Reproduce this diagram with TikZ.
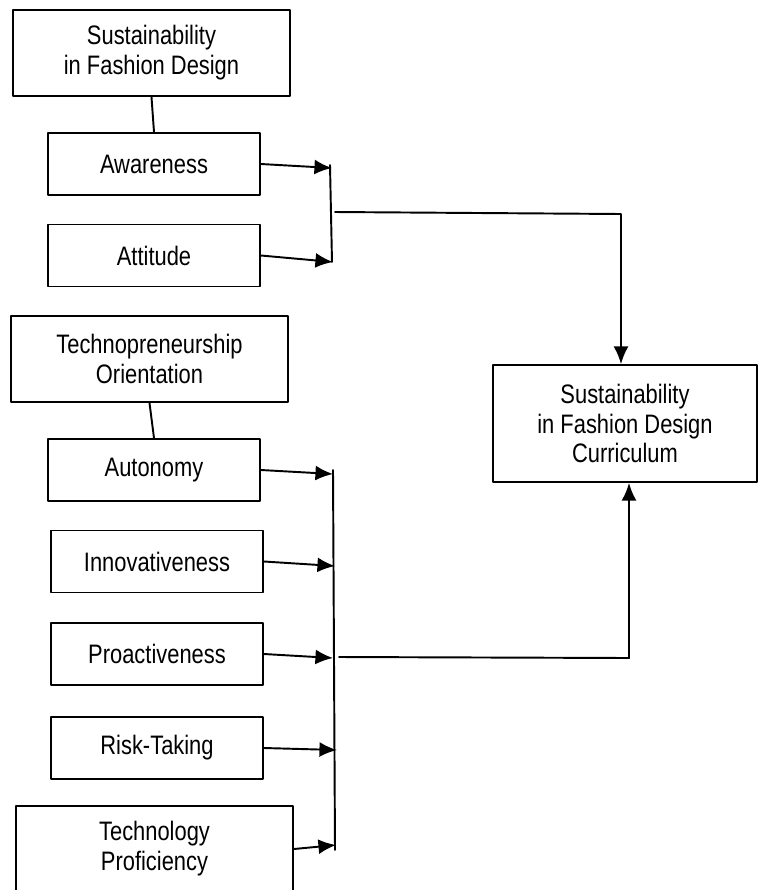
\documentclass[tikz,border=0pt]{standalone}
\usepackage{fontspec}
\setmainfont{Liberation Sans}[FakeStretch=0.82]
\usetikzlibrary{arrows.meta}

\begin{document}
\begin{tikzpicture}[x=0.02cm,y=-0.02cm,line cap=round,line join=round,
    >={Latex[length=10pt,width=8.5pt]},
    box/.style={draw,line width=1.1pt,align=center,inner sep=0pt,
      font=\fontsize{15.2}{17}\selectfont},
    widebox/.style={box,minimum width=277*\px,minimum height=86*\px},
    itembox/.style={box,minimum width=212*\px,minimum height=62*\px},
    link/.style={line width=1.1pt}]
  \def\px{0.02cm}
  \useasboundingbox (0,0) rectangle (759,890);

  % constructs on the left
  \node[widebox] (sfd) at (151.5,53) {Sustainability\\in Fashion Design};
  \node[itembox] (aware) at (154,164) {Awareness};
  \node[itembox] (att) at (154,255.5) {Attitude};

  \node[widebox] (tpo) at (149.5,359) {Technopreneurship\\Orientation};
  \node[itembox] (auto) at (154,470) {Autonomy};
  \node[itembox] (innov) at (157,561.5) {Innovativeness};
  \node[itembox] (proact) at (157,654) {Proactiveness};
  \node[itembox] (risk) at (157,748) {Risk-Taking};
  \node[widebox] (tprof) at (154.5,849) {Technology\\Proficiency};

  % outcome
  \node[box,minimum width=264*\px,minimum height=117*\px] (curr) at (625,423.5)
    {Sustainability\\in Fashion Design\\Curriculum};

  % bus points
  \coordinate (b1a) at (330,165);  \coordinate (b1b) at (332,262);
  \coordinate (j1) at (335,212);   \coordinate (k1) at (621,214);
  \coordinate (b2a) at (333,470);  \coordinate (b2b) at (335,850);
  \coordinate (j2) at (339,657);   \coordinate (k2) at (629,658);
  \coordinate (t1) at (332,168);   \coordinate (t2) at (333,262);
  \coordinate (t3) at (333,474);   \coordinate (t4) at (335,566);
  \coordinate (t5) at (333,658);   \coordinate (t6) at (337,750);
  \coordinate (t7) at (336,845);

  \draw[link] (sfd.south) -- (aware.north);
  \draw[link] (tpo.south) -- (auto.north);

  \draw[link,->] (aware.east) -- (t1);
  \draw[link,->] (att.east) -- (t2);
  \draw[link] (b1a) -- (b1b);
  \draw[link,->] (j1) -- (k1) -- (k1 |- curr.north);

  \draw[link,->] (auto.east) -- (t3);
  \draw[link,->] (innov.east) -- (t4);
  \draw[link,->] (proact.east) -- (t5);
  \draw[link,->] (risk.east) -- (t6);
  \draw[link,->] (tprof.east) -- (t7);
  \draw[link] (b2a) -- (b2b);
  \draw[link,->] (j2) -- (k2) -- (k2 |- curr.south);
\end{tikzpicture}
\end{document}
